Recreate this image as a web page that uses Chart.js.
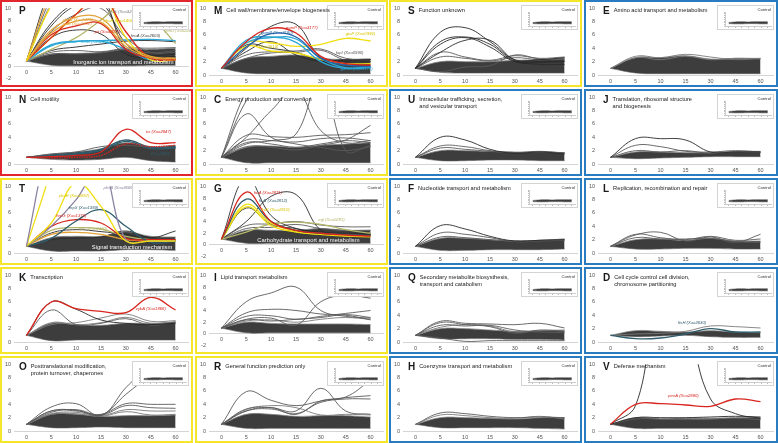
<!DOCTYPE html>
<html>
<head>
<meta charset="utf-8">
<script src="https://cdn.jsdelivr.net/npm/chart.js@4.4.0/dist/chart.umd.min.js"></script>
<style>
body { margin: 0; width: 778px; height: 443px; position: relative; overflow: hidden; background: #fff; font-family: "Liberation Sans", Arial, sans-serif; }
.panel { position: absolute; box-sizing: border-box; border: 2px solid; background: #fff; }
.panel canvas.main { position: absolute; left: 0; top: 0; }
.inset { position: absolute; right: 2px; top: 3px; width: 57px; height: 25px; box-sizing: border-box; border: 1px solid #d4d4d4; background: #fff; }
.inset span { position: absolute; right: 2px; top: 1px; font-size: 4.2px; color: #333; }
.title { position: absolute; left: 17px; top: 4px; display: flex; align-items: flex-start; color: #1a1a1a; }
.title b { font-size: 10px; line-height: 10px; margin-right: 4px; }
.title span { font-size: 5.7px; line-height: 6.8px; padding-top: 1px; }
</style>
</head>
<body>
<script>
const times = ['0', '5', '10', '15', '30', '45', '60'];

// control inset, same in every panel
const ctrl_low = [0.8, 0.75, 0.75, 0.8, 0.8, 0.75, 0.75];
const ctrl_high = [1.1, 1.25, 1.3, 1.25, 1.3, 1.3, 1.3];

// P - Inorganic ion transport and metabolism
const P_low = [1, 0.3, 0.2, 0.2, 0.2, 0.3, 0.3];
const P_high = [1, 2.2, 2.3, 2.5, 3.0, 3.0, 3.2];
const P_lines = [
  [1, 14, 22, 22, 22, 22, 22], [1, 12, 20, 20, 20, 20, 20], [1, 11, 18, 18, 18, 18, 18],
  [1, 10.5, 16, 16, 16, 16, 16], [1, 13, 21, 21, 21, 21, 21],
  [1, 6.3, 8.5, 8.3, 4, 1.8, 1.5], [1, 5.8, 7.8, 7.6, 3.5, 1.6, 1.4],
  [1, 5, 6.3, 5.6, 2.2, 1.5, 1.6], [1, 7, 10.5, 11, 4, 1.8, 1.8], [1, 7.5, 11, 12, 3, 2, 2.2],
  [1, 6, 9, 10, 5, 2.5, 2.5], [1, 5, 9, 12, 6, 1.5, 1.3], [1, 5.5, 7, 7.4, 3, 1.5, 1.2],
  [1, 5, 9, 12.5, 5, 1.2, 1.2], [1, 3.8, 4.4, 4.5, 4.6, 4.7, 4.5], [1, 3.6, 4.3, 4.4, 3, 1.2, 1.5],
  [1, 2.8, 3.4, 3.9, 4.4, 4.5, 4.3], [1, 3, 5, 8, 11, 8.5, 4],
  [1, 2.5, 2.8, 2.6, 3.2, 3.2, 3.3], [1, 2.2, 2.2, 2.4, 3, 2.4, 2.8]
];

// M - Cell wall/membrane/envelope biogenesis
const M_low = [1, 0.3, 0.2, 0.2, 0.2, 0.2, 0.2];
const M_high = [1, 2.5, 2.8, 3.0, 2.5, 2.3, 2.3];
const M_lines = [
  [1, 4, 7.3, 7.6, 2.6, 2.2, 2.3], [1, 5, 7, 6.3, 2.8, 1.7, 1.5], [1, 4.2, 6.2, 5.7, 2.5, 1.5, 1.3],
  [1, 4.8, 5.6, 5.4, 2.5, 1.1, 1.3], [1, 5.2, 5.7, 4.9, 2, 1, 1.1], [1, 4.8, 4.8, 4.3, 4.6, 5.5, 5.1],
  [1, 4.3, 3.6, 3.3, 2.3, 1.7, 1.7], [1, 3, 3.5, 3.6, 3.9, 2.5, 2.4], [1, 4.5, 4, 3.4, 2.2, 2.3, 2.3],
  [1, 3.5, 5, 3, 2, 2, 2], [1, 2.5, 3.3, 3.4, 3.7, 2.2, 2.0]
];

// S - Function unknown
const S_low = [1, 0.4, 0.3, 0.3, 0.3, 0.3, 0.3];
const S_high = [1, 2.0, 2.0, 2.0, 2.2, 2.3, 2.4];
const S_lines = [
  [1, 6.4, 7.1, 5, 2.3, 2.3, 2.6], [1, 5, 5.7, 4.6, 2.1, 2, 2.1], [1, 4.6, 5.6, 4.2, 2, 1.9, 2],
  [1, 3.4, 5.2, 5.2, 2.2, 1.6, 1.6], [1, 3.4, 2.7, 2.2, 2.9, 2.5, 2.7], [1, 0.5, 1.2, 1.4, 3, 2.4, 2.3],
  [1, 2.7, 2.5, 2.1, 2.6, 2.3, 2.5]
];

// E - Amino acid transport and metabolism
const E_low = [1, 0.3, 0.2, 0.2, 0.2, 0.2, 0.2];
const E_high = [1, 2.6, 2.6, 2.9, 2.4, 2.5, 2.5];
const E_lines = [[1, 2.8, 2.6, 3.1, 2.7, 2.3, 2.5], [1, 2.6, 2.3, 2.8, 2.3, 2.5, 2.4]];

// N - Cell motility
const N_low = [1, 0.7, 0.6, 0.7, 1.0, 0.5, 0.3];
const N_high = [1, 1.5, 1.8, 2.3, 3.2, 2.6, 2.8];
const N_lines = [
  [1, 1.1, 1.3, 1.8, 5.2, 3.2, 3.2], [1, 0.9, 1.0, 1.3, 3.0, 2.6, 2.8], [1, 1.3, 1.6, 2.2, 3.6, 2.5, 2.6],
  [1, 1.2, 1.5, 2.0, 3.4, 2.3, 2.4], [1, 1.5, 1.8, 2.6, 2.8, 2.5, 2.4]
];

// C - Energy production and conversion
const C_low = [1, 0.2, 0.2, 0.2, 0.2, 0.2, 0.2];
const C_high = [1, 2.5, 2.7, 2.5, 2.8, 3.0, 3.2];
const C_lines = [
  [1, 7.5, 4, 3, 2.5, 2, 2.6], [1, 11, 16, 16, 16, 16, 16], [1, 9.5, 14, 14, 14, 14, 14],
  [1, 4, 8, 11, 5, 3.2, 3.5], [1, 3, 3.5, 4.5, 13, 2, 2.8], [1, 4.3, 4.1, 4.0, 4.3, 4.4, 4.7],
  [1, 3.6, 3.5, 3.3, 3.8, 3.9, 3.5], [1, 2.6, 2.5, 2.1, 2.8, 3.6, 5.8], [1, 3.2, 3, 2.5, 3, 3.5, 3.2]
];

// U - Intracellular trafficking
const U_low = [1, 0.5, 0.5, 0.6, 0.6, 0.5, 0.5];
const U_high = [1, 2.0, 2.0, 1.9, 1.8, 1.8, 1.7];
const U_lines = [[1, 4, 3.6, 2.2, 1.6, 1.8, 1.5], [1, 2.7, 2.6, 2.0, 1.7, 1.8, 1.7], [1, 2.4, 2.2, 1.9, 1.7, 1.9, 1.6]];

// J - Translation
const J_low = [1, 0.8, 0.9, 1.0, 1.1, 1.1, 1.1];
const J_high = [1, 1.8, 1.8, 1.7, 1.7, 1.9, 1.9];
const J_lines = [[1, 3.8, 3.8, 3.6, 1.8, 1.8, 1.8], [1, 2.8, 2.6, 1.9, 1.8, 2.0, 1.8], [1, 2.0, 1.8, 2.0, 1.6, 1.8, 1.7]];

// T - Signal transduction mechanism
const T_low = [1, 0.3, 0.3, 0.3, 0.5, 0.5, 0.4];
const T_high = [1, 2.3, 2.5, 2.5, 3.2, 2.5, 2.4];
const T_lines = [
  [1, 19, 30, 30, 30, 30, 30], [1, 12.5, 25, 25, 25, 25, 25], [1, 4.5, 10.5, 7, 1.8, 1.8, 1.8],
  [1, 4, 8, 13, 2, 1.8, 1.8], [1, 2.2, 4.8, 6.5, 4, 1.6, 1.8], [1, 4, 5, 4.5, 2.2, 2, 2],
  [1, 3.4, 3.8, 3.6, 2.5, 2, 2], [1, 2.8, 3.1, 2.8, 2, 1.8, 1.8], [1, 2, 2.2, 2.4, 3.3, 2.3, 3.3],
  [1, 3, 3.5, 3.2, 2.8, 2, 2]
];

// G - Carbohydrate transport and metabolism
const G_low = [1, 0.3, 0.3, 0.3, 0.3, 0.3, 0.3];
const G_high = [1, 2.5, 2.5, 2.5, 2.8, 2.5, 2.5];
const G_lines = [
  [1, 9, 4, 2.5, 2, 1.7, 1.5], [1, 7.8, 4, 2.5, 2, 1.8, 1.6], [1, 6.9, 3.7, 2.3, 1.8, 1.6, 1.5],
  [1, 6.5, 3.3, 2.2, 1.8, 1.5, 1.4], [1, 6.3, 3.5, 2.8, 2, 1.8, 1.8], [1, 11.5, 5, 2.8, 2.2, 2, 2],
  [1, 4, 8.3, 8.6, 2.5, 1.8, 1.8], [1, 2.2, 3.6, 3.9, 3.5, 2.6, 2.0], [1, 3.3, 3.6, 4, 3.4, 3.1, 3.1],
  [1, 2.8, 3, 3.5, 2.8, 2.5, 2.5]
];

// F - Nucleotide transport and metabolism
const F_low = [1, 0.4, 0.4, 0.5, 0.5, 0.5, 0.6];
const F_high = [1, 2.2, 2.2, 2.0, 1.8, 1.9, 2.0];
const F_lines = [[1, 4.1, 3.6, 2.5, 1.8, 1.9, 2.0], [1, 3.0, 2.8, 2.3, 1.7, 1.8, 1.9], [1, 2.4, 2.3, 2.0, 1.8, 1.9, 2.1]];

// L - Replication, recombination and repair
const L_low = [1, 0.6, 0.6, 0.7, 0.7, 0.6, 0.6];
const L_high = [1, 2.0, 2.1, 1.9, 2.2, 1.8, 1.8];
const L_lines = [[1, 2.7, 3.1, 1.8, 2.4, 1.6, 2.8], [1, 2.8, 2.3, 2.0, 2.5, 1.9, 2.1], [1, 2.3, 2.1, 2.1, 2.2, 1.7, 1.6]];

// K - Transcription
const K_low = [1, 0.2, 0.3, 0.3, 0.3, 0.3, 0.3];
const K_high = [1, 2.8, 2.6, 2.5, 2.8, 2.8, 3.0];
const K_lines = [
  [1, 6, 5, 4.6, 4.4, 6.7, 4.8], [1, 6, 4.9, 3.3, 2.8, 2.6, 2.8], [1, 4.8, 2.6, 2.8, 3.5, 2.5, 3.0],
  [1, 2.6, 2.9, 3.6, 4.2, 3.1, 3.2], [1, 2.9, 2.6, 2.9, 3.7, 2.8, 3.0]
];

// I - Lipid transport metabolism
const I_low = [1, 0.2, 0.2, 0.2, 0.2, 0.2, 0.2];
const I_high = [1, 2.0, 1.8, 1.7, 1.7, 1.7, 1.6];
const I_lines = [
  [1, 5.5, 7, 8, 4, 3, 2.7], [1, 3.6, 4.2, 4, 3.4, 3.2, 2.4], [1, 3, 3.1, 2.5, 3, 3.5, 4],
  [1, 2.5, 2.7, 1.5, 5.5, 6.6, 6.1], [1, 2.4, 2.2, 2.5, 2.8, 3.3, 2.8], [1, 2.2, 2.4, 2.0, 2.5, 2.8, 2.5]
];

// Q - Secondary metabolite biosynthesis
const Q_low = [1, 0.5, 0.5, 0.5, 0.4, 0.4, 0.3];
const Q_high = [1, 2.0, 2.0, 1.8, 1.6, 1.7, 1.7];
const Q_lines = [
  [1, 3.1, 2.8, 2.7, 2.6, 2.8, 2.1], [1, 2.9, 2.6, 2.3, 1.3, 1.8, 1.6], [1, 2.5, 2.4, 2.5, 1.8, 1.5, 1.4],
  [1, 0.6, 0.1, 0.2, 0.2, 0.2, 0.2], [1, 2.2, 2.6, 2.4, 1.5, 1.7, 1.8]
];

// D - Cell cycle control
const D_low = [1, 0.8, 0.9, 1.0, 0.8, 0.7, 0.7];
const D_high = [1, 1.7, 1.6, 1.5, 1.7, 1.5, 1.4];
const D_lines = [[1, 0.5, 0.6, 1.2, 2.0, 1.5, 1.5], [1, 1.2, 1.3, 1.6, 2.4, 2.3, 2.1]];

// O - Posttranslational modification
const O_low = [1, 0.5, 0.5, 0.6, 0.5, 0.5, 0.5];
const O_high = [1, 2.5, 2.5, 2.2, 2.3, 2.3, 2.4];
const O_lines = [
  [1, 3.6, 4.1, 2.3, 6.5, 10, 14], [1, 3, 3.1, 2.4, 5.5, 8.5, 12], [1, 3, 3, 2.5, 4.1, 4.0, 4.0],
  [1, 2.8, 3.2, 2.4, 3.8, 3.5, 3.4], [1, 2.6, 2.8, 2.3, 3.2, 3.0, 3.0], [1, 2.5, 2.6, 2.2, 2.9, 2.4, 2.5]
];

// R - General function prediction only
const R_low = [1, 0.4, 0.4, 0.4, 0.4, 0.4, 0.4];
const R_high = [1, 2.5, 2.5, 2.2, 2.3, 2.3, 2.1];
const R_lines = [
  [1, 5.9, 4.6, 3.8, 4.5, 5.0, 5.3], [1, 3.3, 3.5, 3, 6.4, 3, 2.5], [1, 3, 3.5, 2.5, 4.5, 5.1, 7.6],
  [1, 3, 3.3, 2.6, 4.3, 4.8, 4.8], [1, 3.2, 3.8, 3.5, 2.4, 2.5, 2.4]
];

// H - Coenzyme transport and metabolism
const H_low = [1, 0.5, 0.5, 0.5, 0.5, 0.4, 0.3];
const H_high = [1, 2.0, 2.0, 1.9, 1.8, 2.0, 2.0];
const H_lines = [[1, 2.7, 2.6, 2.2, 2.0, 2.1, 2.0], [1, 2.4, 2.3, 2.0, 1.9, 2.2, 1.8]];

// V - Defense mechanism
const V_low = [1, 0.4, 0.4, 0.4, 0.4, 0.4, 0.4];
const V_high = [1, 2.0, 1.8, 1.8, 1.8, 2.0, 2.0];
const V_lines = [
  [1, 4, 4.1, 3.9, 3.7, 4.8, 4.4], [1, 3.8, 20, 16, 4.8, 2.6, 1.9],
  [1, 2, 2, 2, 2.1, 2.2, 2.1], [1, 1.8, 1.8, 1.9, 1.9, 1.9, 1.7]
];

// ---- styles ----
const FONT = '"Liberation Sans", Arial, sans-serif';
const RED_F = '#e3262c', YEL_F = '#f5e62a', BLU_F = '#2a7cc0';
const BK = '#2a2a2a', GR = '#5a5a5a', LG = '#7a7a7a';
const RED = '#d8261e', ORA = '#e2a33a', YEL = '#f0de10', CYA = '#2aa6d6', BLU = '#2463a8',
      TEA = '#2f5d6c', OLV = '#b4b66a', PUR = '#8c82a2';

const panels = [
  { key: 'P', name: '', col: 0, row: 0, frame: RED_F, yMin: -2, low: P_low, high: P_high, lines: P_lines,
    colors: [BK, GR, LG, YEL, ORA, ORA, ORA, BK, BK, BK, GR, RED, RED, YEL, CYA, CYA, BK, OLV, GR, GR],
    notes: [
      { t: 'phoU (Xoo1406)', at: 1.45, v: 8.0, c: ORA }, { t: 'pstB (Xoo1402)', at: 1.45, v: 7.3, c: ORA },
      { t: 'pstS (Xoo3292)', at: 3.3, v: 9.4, c: '#777' }, { t: 'phoR (Xoo1404)', at: 3.1, v: 7.8, c: '#d9c400' },
      { t: 'pit (Xoo2677)', at: 2.75, v: 6.0, c: RED }, { t: 'feoB (Xoo2605)', at: 2.2, v: 4.2, c: CYA },
      { t: 'feoA (Xoo2603)', at: 4.2, v: 5.3, c: '#444' }, { t: 'yenD (Xoo2240)', at: 5.55, v: 6.2, c: OLV },
      { t: 'Inorganic ion transport and metabolism', at: 3.9, v: 0.8, c: '#fff', big: true }
    ] },
  { key: 'M', name: 'Cell wall/membrane/envelope biogenesis', col: 1, row: 0, frame: YEL_F, yMin: 0, low: M_low, high: M_high, lines: M_lines,
    colors: [BK, RED, BLU, CYA, CYA, YEL, YEL, GR, BK, BK, GR],
    notes: [
      { t: 'gumP (Xoo3177)', at: 2.6, v: 7.0, c: RED }, { t: 'gumB (Xoo3180)', at: 1.6, v: 6.3, c: BLU },
      { t: 'gtaP (Xoo0999)', at: 5.0, v: 6.2, c: '#d9c400' }, { t: '(Xoo2513)', at: 1.5, v: 4.2, c: '#c9b800' },
      { t: 'fapI (Xoo0990)', at: 4.6, v: 3.3, c: '#555' }, { t: 'gumC (Xoo3178)', at: 4.8, v: 0.9, c: CYA }
    ] },
  { key: 'S', name: 'Function unknown', col: 2, row: 0, frame: YEL_F, yMin: 0, low: S_low, high: S_high, lines: S_lines,
    colors: [BK, BK, BK, BK, GR, GR, GR], notes: [] },
  { key: 'E', name: 'Amino acid transport and metabolism', col: 3, row: 0, frame: BLU_F, yMin: 0, low: E_low, high: E_high, lines: E_lines,
    colors: [LG, LG], notes: [] },
  { key: 'N', name: 'Cell motility', col: 0, row: 1, frame: RED_F, yMin: 0, low: N_low, high: N_high, lines: N_lines,
    colors: [RED, RED, TEA, TEA, GR], dash: [false, true, false, false, false],
    notes: [{ t: 'tsr (Xoo2847)', at: 4.8, v: 4.85, c: RED }, { t: '(Xoo3460)', at: 5.0, v: 1.5, c: TEA }] },
  { key: 'C', name: 'Energy production and conversion', col: 1, row: 1, frame: YEL_F, yMin: 0, low: C_low, high: C_high, lines: C_lines,
    colors: [GR, GR, GR, GR, GR, GR, GR, GR, GR], notes: [] },
  { key: 'U', name: 'Intracellular trafficking, secretion,<br>and vesicular transport', col: 2, row: 1, frame: BLU_F, yMin: 0, low: U_low, high: U_high, lines: U_lines,
    colors: [BK, GR, GR], notes: [] },
  { key: 'J', name: 'Translation, ribosomal structure<br>and biogenesis', col: 3, row: 1, frame: BLU_F, yMin: 0, low: J_low, high: J_high, lines: J_lines,
    colors: [BK, GR, GR], notes: [] },
  { key: 'T', name: '', col: 0, row: 2, frame: YEL_F, yMin: 0, low: T_low, high: T_high, lines: T_lines,
    colors: [PUR, YEL, YEL, PUR, TEA, RED, OLV, ORA, BK, BK],
    notes: [
      { t: 'phoR (Xoo2857)', at: 1.3, v: 8.5, c: '#d9c400' }, { t: 'phoB (Xoo3666)', at: 3.1, v: 9.7, c: PUR },
      { t: 'hrpX (Xoo1389)', at: 1.7, v: 6.7, c: TEA }, { t: 'hrpG (Xoo1379)', at: 1.2, v: 5.6, c: RED },
      { t: 'rpfC (Xoo2420)', at: 2.1, v: 3.6, c: OLV },
      { t: 'Signal transduction mechanism', at: 4.25, v: 0.9, c: '#fff', big: true }
    ] },
  { key: 'G', name: '', col: 1, row: 2, frame: YEL_F, yMin: -2, low: G_low, high: G_high, lines: G_lines,
    colors: [RED, TEA, YEL, YEL, BK, BK, BK, OLV, GR, GR],
    notes: [
      { t: 'fruA (Xoo2811)', at: 1.3, v: 8.9, c: RED }, { t: 'fruB (Xoo2812)', at: 1.5, v: 7.6, c: TEA },
      { t: 'fruK (Xoo2810)', at: 1.6, v: 6.0, c: '#d9c400' }, { t: 'egl (Xoo0281)', at: 3.9, v: 4.3, c: OLV },
      { t: 'Carbohydrate transport and metabolism', at: 3.5, v: 0.8, c: '#fff', big: true }
    ] },
  { key: 'F', name: 'Nucleotide transport and metabolism', col: 2, row: 2, frame: BLU_F, yMin: 0, low: F_low, high: F_high, lines: F_lines,
    colors: [BK, GR, GR], notes: [] },
  { key: 'L', name: 'Replication, recombination and repair', col: 3, row: 2, frame: BLU_F, yMin: 0, low: L_low, high: L_high, lines: L_lines,
    colors: [GR, GR, GR], notes: [] },
  { key: 'K', name: 'Transcription', col: 0, row: 3, frame: YEL_F, yMin: 0, low: K_low, high: K_high, lines: K_lines,
    colors: [RED, BK, GR, LG, LG], notes: [{ t: 'zybA (Xoo1868)', at: 4.4, v: 4.9, c: RED }] },
  { key: 'I', name: 'Lipid transport metabolism', col: 1, row: 3, frame: YEL_F, yMin: -2, low: I_low, high: I_high, lines: I_lines,
    colors: [GR, GR, GR, GR, GR, LG], notes: [] },
  { key: 'Q', name: 'Secondary metabolite biosysthesis,<br>transport and catabolism', col: 2, row: 3, frame: BLU_F, yMin: 0, low: Q_low, high: Q_high, lines: Q_lines,
    colors: [GR, GR, GR, GR, LG], notes: [] },
  { key: 'D', name: 'Cell cycle control cell division,<br>chromosome partitioning', col: 3, row: 3, frame: BLU_F, yMin: 0, low: D_low, high: D_high, lines: D_lines,
    colors: [TEA, LG], notes: [{ t: 'ftsH (Xoo2630)', at: 2.7, v: 2.8, c: TEA }] },
  { key: 'O', name: 'Posttranslational modification,<br>protein turnover, chaperones', col: 0, row: 4, frame: YEL_F, yMin: 0, low: O_low, high: O_high, lines: O_lines,
    colors: [GR, GR, GR, GR, LG, LG], notes: [] },
  { key: 'R', name: 'General function prediction only', col: 1, row: 4, frame: YEL_F, yMin: 0, low: R_low, high: R_high, lines: R_lines,
    colors: [GR, GR, GR, GR, LG], notes: [] },
  { key: 'H', name: 'Coenzyme transport and metabolism', col: 2, row: 4, frame: BLU_F, yMin: 0, low: H_low, high: H_high, lines: H_lines,
    colors: [GR, LG], notes: [] },
  { key: 'V', name: 'Defense mechanism', col: 3, row: 4, frame: BLU_F, yMin: 0, low: V_low, high: V_high, lines: V_lines,
    colors: [RED, BK, BK, GR], notes: [{ t: 'pmrA (Xoo2880)', at: 2.3, v: 5.2, c: RED }] }
];

const colLeft = [0, 195, 389, 584], colWidth = [193, 193, 193, 194];
const rowTop = [0, 89, 178, 267, 356], rowHeight = 87;

// draws the small gene labels at data positions
function notesPlugin(notes) {
  return {
    id: 'notes',
    afterDatasetsDraw(chart) {
      const ctx = chart.ctx;
      ctx.save();
      notes.forEach(n => {
        ctx.font = n.big ? '5.8px ' + FONT : 'italic 4.2px ' + FONT;
        ctx.fillStyle = n.c;
        ctx.textAlign = n.big ? 'center' : 'left';
        ctx.textBaseline = 'middle';
        ctx.fillText(n.t, chart.scales.x.getPixelForValue(n.at), chart.scales.y.getPixelForValue(n.v));
      });
      ctx.restore();
    }
  };
}

function buildSets(p) {
  const sets = [
    { data: p.low, borderColor: '#5c5c5c', borderWidth: 0.6, fill: false, order: 3 },
    { data: p.high, borderColor: '#888', borderWidth: 0.8, fill: '-1', backgroundColor: '#3d3d3d', order: 3 }
  ];
  p.lines.forEach((vals, i) => {
    const c = p.colors[i];
    const plain = c === BK || c === GR || c === LG;
    sets.push({
      data: vals, borderColor: c, borderWidth: plain ? 0.9 : 1.3, fill: false,
      borderDash: p.dash && p.dash[i] ? [1.5, 1] : [], order: plain ? 2 : 1
    });
  });
  return sets;
}

const tickFont = { size: 5.5, family: FONT };

panels.forEach(p => {
  const w = colWidth[p.col], h = rowHeight;
  const div = document.createElement('div');
  div.className = 'panel';
  div.style.cssText = `left:${colLeft[p.col]}px;top:${rowTop[p.row]}px;width:${w}px;height:${h}px;border-color:${p.frame}`;
  const cv = document.createElement('canvas');
  cv.className = 'main';
  cv.width = w - 4; cv.height = h - 4;
  div.appendChild(cv);

  const inset = document.createElement('div');
  inset.className = 'inset';
  const ic = document.createElement('canvas');
  ic.width = 55; ic.height = 23;
  inset.appendChild(ic);
  const lab = document.createElement('span');
  lab.textContent = 'Control';
  inset.appendChild(lab);
  div.appendChild(inset);

  const title = document.createElement('div');
  title.className = 'title';
  title.innerHTML = `<b>${p.key}</b><span>${p.name}</span>`;
  div.appendChild(title);
  document.body.appendChild(div);

  const below = p.yMin < 0;
  new Chart(cv, {
    type: 'line',
    data: { labels: times, datasets: buildSets(p) },
    options: {
      responsive: false,
      animation: false,
      layout: { padding: { top: 6, right: 3, left: 0, bottom: below ? 5 : 0 } },
      plugins: { legend: { display: false }, tooltip: { enabled: false } },
      elements: { point: { radius: 0 }, line: { tension: 0.4, capBezierPoints: false } },
      scales: {
        x: {
          position: below ? { y: 0 } : 'bottom',
          offset: true,
          grid: { display: false, drawTicks: false },
          border: { color: '#d4d4d4' },
          ticks: { font: tickFont, color: '#555', padding: below ? 2 : 3, maxRotation: 0, autoSkip: false },
          afterFit(s) { s.height = 10; }
        },
        y: {
          min: p.yMin, max: 10,
          grid: { display: false, drawTicks: false },
          border: { display: false },
          ticks: { stepSize: 2, font: tickFont, color: '#555', padding: 3 },
          afterFit(s) { s.width = 12; }
        }
      }
    },
    plugins: [notesPlugin(p.notes)]
  });

  new Chart(ic, {
    type: 'line',
    data: {
      labels: times,
      datasets: [
        { data: ctrl_low, borderColor: '#444', borderWidth: 0.6, fill: false },
        { data: ctrl_high, borderColor: '#555', borderWidth: 0.6, fill: '-1', backgroundColor: '#383838' }
      ]
    },
    options: {
      responsive: false,
      animation: false,
      layout: { padding: { left: 6, right: 2, top: 6, bottom: 1 } },
      plugins: { legend: { display: false }, tooltip: { enabled: false } },
      elements: { point: { radius: 0 }, line: { tension: 0.4 } },
      scales: {
        x: { offset: true, ticks: { display: false }, grid: { drawOnChartArea: false, tickLength: 1.5, color: '#bbb' }, border: { color: '#ccc' } },
        y: { min: 0, max: 4, ticks: { display: false, stepSize: 0.5 }, grid: { drawOnChartArea: false, tickLength: 1.5, color: '#bbb' }, border: { color: '#ccc' } }
      }
    }
  });
});
</script>
</body>
</html>
